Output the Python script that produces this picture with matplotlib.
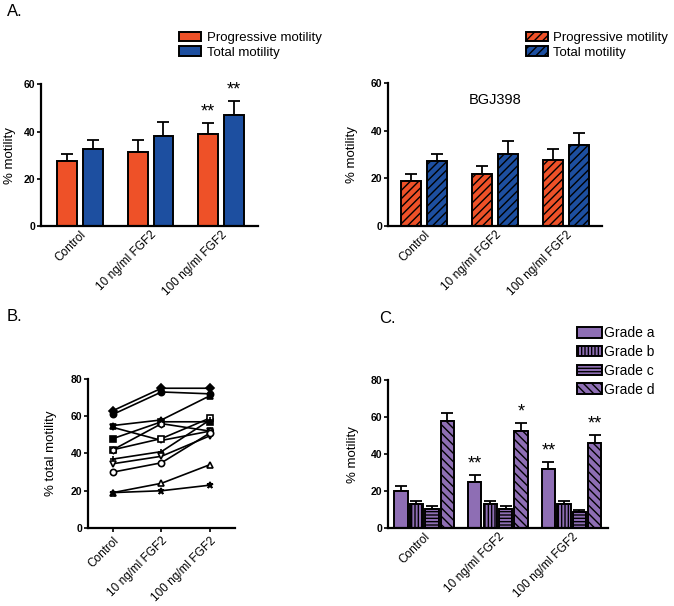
import matplotlib
matplotlib.use('Agg')
import matplotlib.pyplot as plt
import numpy as np

plt.rcParams['font.family'] = ['Liberation Sans', 'DejaVu Sans']
plt.rcParams['hatch.linewidth'] = 1.0

# data
groups = ['Control', '10 ng/ml FGF2', '100 ng/ml FGF2']

# A, left (FGF2)
prog = [27.5, 31.5, 39.0]
prog_err = [3.0, 4.8, 4.5]
total = [32.7, 38.2, 47.0]
total_err = [3.6, 5.8, 6.0]

# A, right (BGJ398)
prog_bgj = [19.0, 22.0, 27.8]
prog_bgj_err = [2.7, 3.0, 4.5]
total_bgj = [27.3, 30.4, 34.0]
total_bgj_err = [3.1, 5.4, 5.0]

# B, individual donors
donor_vals = [
    [63, 75, 75],
    [61, 73, 72],
    [55, 58, 71],
    [54, 47, 52],
    [48, 57, 57],
    [42, 48, 59],
    [42, 56, 52],
    [37, 41, 58],
    [34.5, 38.5, 49.5],
    [30, 35, 51],
    [19, 24, 34],
    [19, 20, 23],
]
donor_markers = ['D', 'o', '^', 'v', 's', 's', 'h', '+', 'v', 'o', '^', '*']
donor_filled = [True, True, True, True, True, False, False, True, False, False, False, True]

# C, grades
grade_names = ['Grade a', 'Grade b', 'Grade c', 'Grade d']
grade_vals = [
    [20, 25, 32],
    [12.8, 12.8, 12.8],
    [10.1, 10.1, 8.9],
    [58, 52.3, 46.1],
]
grade_err = [
    [2.8, 3.8, 3.8],
    [2.0, 2.0, 2.0],
    [1.7, 1.7, 0.9],
    [4.0, 4.5, 4.0],
]
grade_hatch = ['', '|||||', '-----', '\\\\\\\\']

orange = '#EE5128'
blue = '#1D4FA0'
purple = '#8E6EB4'

fig = plt.figure(figsize=(6.74, 6.06), dpi=100)


def style_axis(ax, ymax, step):
    ax.spines['top'].set_visible(False)
    ax.spines['right'].set_visible(False)
    ax.spines['left'].set_linewidth(1.6)
    ax.spines['bottom'].set_linewidth(1.6)
    ax.set_ylim(0, ymax)
    ax.set_yticks(np.arange(0, ymax + 1, step))
    ax.tick_params(axis='y', length=3, width=1.2, labelsize=7.5, pad=1)
    for t in ax.get_yticklabels():
        t.set_fontweight('bold')
    ax.set_xticks(range(3))
    ax.set_xticklabels(groups, rotation=45, ha='right', rotation_mode='anchor', fontsize=8.5)


def up_err(ax, x, y, e):
    ax.errorbar(x, y, yerr=[np.zeros(len(e)), e], fmt='none', ecolor='black',
                elinewidth=1.3, capsize=4, capthick=1.3, zorder=1)


x = np.arange(3)

# ---- A left
ax1 = fig.add_axes([0.0608, 0.627, 0.322, 0.234])
w = 0.28
ax1.bar(x - 0.183, prog, w, color=orange, edgecolor='black', lw=1.4, label='Progressive motility', zorder=2)
ax1.bar(x + 0.183, total, w, color=blue, edgecolor='black', lw=1.4, label='Total motility', zorder=2)
up_err(ax1, x - 0.183, prog, prog_err)
up_err(ax1, x + 0.183, total, total_err)
style_axis(ax1, 60, 20)
ax1.tick_params(axis='x', length=0, pad=2)
ax1.set_xlim(-0.55, 2.52)
ax1.set_ylabel('% motility', fontsize=9.5)
ax1.yaxis.set_label_coords(-0.115, 0.5)
ax1.text(2 - 0.183, prog[2] + prog_err[2] + 1.0, '**', ha='center', va='bottom', fontsize=13)
ax1.text(2 + 0.183, total[2] + total_err[2] + 1.0, '**', ha='center', va='bottom', fontsize=13)
ax1.legend(loc='upper left', bbox_to_anchor=(0.2656, 0.948), bbox_transform=fig.transFigure,
           frameon=False, borderaxespad=0, borderpad=0, fontsize=9.5, handlelength=1.7,
           handletextpad=0.4, labelspacing=0.2)

# ---- A right
ax2 = fig.add_axes([0.5757, 0.627, 0.3175, 0.236])
ax2.bar(x - 0.183, prog_bgj, w, color=orange, edgecolor='black', lw=1.4, hatch='////',
        label='Progressive motility', zorder=2)
ax2.bar(x + 0.183, total_bgj, w, color=blue, edgecolor='black', lw=1.4, hatch='////',
        label='Total motility', zorder=2)
up_err(ax2, x - 0.183, prog_bgj, prog_bgj_err)
up_err(ax2, x + 0.183, total_bgj, total_bgj_err)
style_axis(ax2, 60, 20)
ax2.tick_params(axis='x', length=0, pad=2)
ax2.set_xlim(-0.51, 2.51)
ax2.set_ylabel('% motility', fontsize=9.5)
ax2.yaxis.set_label_coords(-0.14, 0.5)
ax2.text(1.0, 53, 'BGJ398', ha='center', va='center', fontsize=10.5)
ax2.legend(loc='upper left', bbox_to_anchor=(0.780, 0.948), bbox_transform=fig.transFigure,
           frameon=False, borderaxespad=0, borderpad=0, fontsize=9.5, handlelength=1.7,
           handletextpad=0.4, labelspacing=0.2)

# ---- B
ax3 = fig.add_axes([0.1306, 0.1287, 0.218, 0.246])
for vals, m, f in zip(donor_vals, donor_markers, donor_filled):
    ax3.plot(x, vals, color='black', lw=1.2, marker=m, markersize=4.5,
             markerfacecolor='black' if f else 'white', markeredgecolor='black',
             markeredgewidth=1.2)
style_axis(ax3, 80, 20)
ax3.tick_params(axis='x', length=3, width=1.2, pad=2)
ax3.set_xlim(-0.515, 2.515)
ax3.set_ylabel('% total motility', fontsize=9.5)
ax3.yaxis.set_label_coords(-0.21, 0.5)

# ---- C
ax4 = fig.add_axes([0.5757, 0.1287, 0.326, 0.244])
gw = 0.18
step = 0.21
offs = [-1.5 * step, -0.5 * step, 0.5 * step, 1.5 * step]
for vals, err, h, name, o in zip(grade_vals, grade_err, grade_hatch, grade_names, offs):
    ax4.bar(x + o, vals, gw, color=purple, edgecolor='black', lw=1.4, hatch=h, label=name, zorder=2)
    up_err(ax4, x + o, vals, err)
style_axis(ax4, 80, 20)
ax4.tick_params(axis='x', length=0, pad=2)
ax4.set_xlim(-0.49, 2.49)
ax4.set_ylabel('% motility', fontsize=9.5)
ax4.yaxis.set_label_coords(-0.13, 0.5)
stars = [(0, 1, '**'), (3, 1, '*'), (0, 2, '**'), (3, 2, '**')]
for gi, ci, s in stars:
    ax4.text(ci + offs[gi], grade_vals[gi][ci] + grade_err[gi][ci] + 1.5, s,
             ha='center', va='bottom', fontsize=13)
ax4.legend(loc='upper left', bbox_to_anchor=(0.856, 0.462), bbox_transform=fig.transFigure,
           frameon=False, borderaxespad=0, borderpad=0, fontsize=10, handlelength=1.8,
           handleheight=0.8, handletextpad=0.15, labelspacing=0.35)

# panel letters
fig.text(0.010, 0.993, 'A.', fontsize=12, va='top')
fig.text(0.010, 0.490, 'B.', fontsize=12, va='top')
fig.text(0.563, 0.487, 'C.', fontsize=12, va='top')

fig.savefig('out.png', dpi=100)
